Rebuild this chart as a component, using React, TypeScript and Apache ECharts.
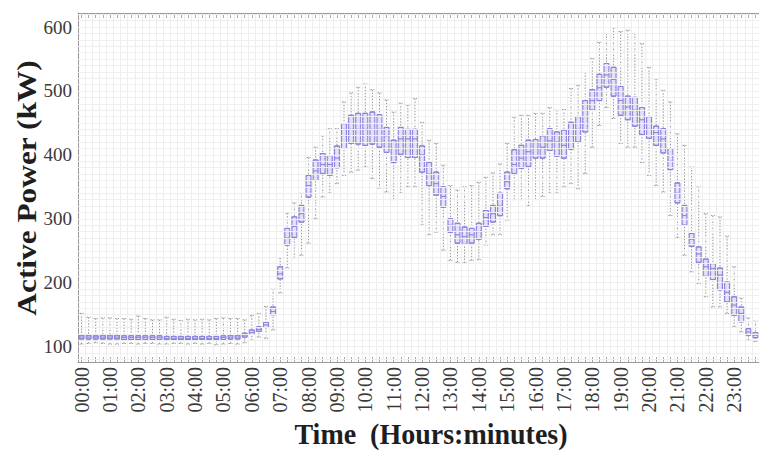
import React, { useEffect, useRef } from "react";
import * as echarts from "echarts";

const times = [
  "00:00", "00:15", "00:30", "00:45", "01:00", "01:15", "01:30", "01:45",
  "02:00", "02:15", "02:30", "02:45", "03:00", "03:15", "03:30", "03:45",
  "04:00", "04:15", "04:30", "04:45", "05:00", "05:15", "05:30", "05:45",
  "06:00", "06:15", "06:30", "06:45", "07:00", "07:15", "07:30", "07:45",
  "08:00", "08:15", "08:30", "08:45", "09:00", "09:15", "09:30", "09:45",
  "10:00", "10:15", "10:30", "10:45", "11:00", "11:15", "11:30", "11:45",
  "12:00", "12:15", "12:30", "12:45", "13:00", "13:15", "13:30", "13:45",
  "14:00", "14:15", "14:30", "14:45", "15:00", "15:15", "15:30", "15:45",
  "16:00", "16:15", "16:30", "16:45", "17:00", "17:15", "17:30", "17:45",
  "18:00", "18:15", "18:30", "18:45", "19:00", "19:15", "19:30", "19:45",
  "20:00", "20:15", "20:30", "20:45", "21:00", "21:15", "21:30", "21:45",
  "22:00", "22:15", "22:30", "22:45", "23:00", "23:15", "23:30", "23:45",
];

const whiskerLow = [
  104, 105, 106, 105, 104, 104, 105, 105, 104, 105, 105, 104, 104, 105, 105, 104,
  105, 104, 105, 103, 104, 105, 104, 106, 110, 115, 113, 126, 184, 223, 239, 243,
  262, 300, 334, 340, 355, 368, 373, 376, 381, 363, 348, 342, 330, 340, 350, 350,
  290, 275, 279, 251, 235, 232, 231, 235, 236, 259, 275, 275, 298, 330, 330, 320,
  330, 335, 340, 340, 350, 355, 347, 371, 412, 446, 474, 457, 418, 412, 412, 388,
  368, 352, 342, 305, 270, 243, 217, 199, 178, 162, 162, 152, 131, 123, 110, 108,
];
const q1 = [
  112, 112, 112, 112, 112, 112, 111, 111, 111, 111, 111, 111, 111, 111, 111, 111,
  111, 111, 111, 111, 111, 112, 112, 115, 119, 124, 130, 150, 206, 259, 271, 295,
  334, 360, 371, 368, 380, 410, 418, 417, 415, 417, 412, 404, 388, 401, 396, 396,
  373, 352, 337, 318, 279, 262, 260, 262, 268, 288, 295, 305, 347, 371, 379, 382,
  395, 395, 407, 398, 395, 409, 420, 436, 470, 485, 506, 492, 462, 455, 445, 432,
  426, 415, 403, 377, 325, 290, 257, 232, 210, 205, 189, 170, 149, 139, 118, 114,
];
const median = [
  115, 115, 115, 115, 115, 115, 114, 114, 114, 114, 114, 114, 113, 113, 113, 113,
  113, 113, 113, 113, 114, 115, 115, 118, 122, 127, 134, 155, 214, 270, 288, 308,
  352, 375, 385, 385, 395, 440, 440, 440, 440, 440, 440, 430, 410, 425, 425, 425,
  400, 370, 355, 335, 290, 275, 272, 275, 280, 302, 308, 320, 358, 385, 395, 405,
  410, 412, 422, 420, 415, 430, 440, 460, 485, 505, 525, 518, 485, 475, 470, 455,
  440, 435, 425, 390, 340, 305, 268, 245, 225, 222, 212, 185, 165, 152, 123, 118,
];
const q3 = [
  118, 118, 117, 118, 118, 118, 117, 117, 117, 117, 117, 117, 116, 116, 116, 116,
  116, 116, 116, 116, 117, 118, 118, 121, 126, 131, 138, 162, 225, 285, 303, 321,
  368, 392, 402, 399, 414, 449, 462, 465, 465, 467, 463, 443, 423, 443, 440, 440,
  414, 388, 373, 350, 300, 293, 287, 285, 293, 313, 321, 340, 373, 408, 415, 423,
  424, 430, 441, 436, 439, 451, 460, 485, 502, 526, 543, 537, 507, 492, 490, 474,
  460, 445, 441, 410, 356, 321, 277, 256, 237, 230, 223, 201, 178, 162, 128, 122,
];
const whiskerHigh = [
  152, 146, 144, 145, 145, 144, 144, 143, 148, 144, 142, 142, 146, 143, 141, 143,
  142, 143, 142, 144, 145, 144, 144, 142, 149, 152, 163, 190, 239, 309, 325, 340,
  396, 412, 430, 441, 441, 483, 497, 506, 511, 502, 497, 486, 467, 481, 478, 488,
  451, 423, 418, 384, 352, 345, 350, 352, 357, 365, 372, 386, 418, 459, 462, 462,
  465, 465, 474, 470, 471, 504, 509, 529, 551, 576, 590, 599, 593, 595, 590, 574,
  537, 519, 501, 483, 433, 415, 381, 350, 308, 305, 303, 273, 225, 176, 145, 140,
];

const yTicks = [100, 200, 300, 400, 500, 600];

export default function App() {
  const ref = useRef<HTMLDivElement>(null);

  useEffect(() => {
    if (!ref.current) return;
    const chart = echarts.init(ref.current, null, { renderer: "svg" });
    const full = times.map((_, i) => [whiskerLow[i], q1[i], median[i], q3[i], whiskerHigh[i]]);
    const boxes = times.map((_, i) => [q1[i], q1[i], median[i], q3[i], q3[i]]);
    const gridLines: any[] = [];
    for (let v = 80; v <= 620; v += 10) gridLines.push({ yAxis: v });

    const serif = "Liberation Serif";
    chart.setOption({
      animation: false,
      backgroundColor: "#ffffff",
      grid: { left: 78, top: 13, width: 691, height: 349, show: false },
      xAxis: [
        {
          type: "category",
          data: times,
          position: "bottom",
          boundaryGap: true,
          axisLine: { show: true, lineStyle: { color: "#999", width: 1 } },
          axisTick: {
            show: true,
            inside: true,
            length: 5,
            interval: 0,
            alignWithLabel: true,
            lineStyle: { color: "#aaa" },
          },
          axisLabel: {
            interval: 3,
            rotate: 90,
            margin: 5,
            fontFamily: serif,
            fontSize: 20,
            color: "#3a3a3a",
          },
          splitLine: { show: true, interval: 0, lineStyle: { color: "#eeeeee", width: 1 } },
        },
        {
          type: "category",
          data: times,
          position: "top",
          boundaryGap: true,
          axisLine: { show: true, lineStyle: { color: "#999", width: 1 } },
          axisTick: {
            show: true,
            inside: true,
            length: 5,
            interval: 0,
            alignWithLabel: true,
            lineStyle: { color: "#aaa" },
          },
          axisLabel: { show: false },
          splitLine: { show: false },
        },
      ],
      yAxis: {
        type: "value",
        min: 76,
        max: 622,
        splitNumber: 5,
        axisLine: { show: true, lineStyle: { color: "#999", width: 1 } },
        axisTick: { show: true, inside: true, length: 4, lineStyle: { color: "#999" } },
        axisLabel: {
          margin: 6,
          fontFamily: serif,
          fontSize: 19,
          color: "#3a3a3a",
          formatter: (v: number) => (yTicks.includes(v) ? String(v) : ""),
        },
        splitLine: { show: false },
      },
      series: [
        {
          type: "line",
          xAxisIndex: 0,
          data: times.map(() => null),
          silent: true,
          z: 0,
          showSymbol: false,
          lineStyle: { opacity: 0 },
          markLine: {
            silent: true,
            symbol: ["none", "none"],
            label: { show: false },
            emphasis: { disabled: true },
            lineStyle: { color: "#eeeeee", type: "solid", width: 1 },
            data: gridLines,
          },
        },
        {
          type: "boxplot",
          name: "whiskers",
          xAxisIndex: 1,
          data: full,
          boxWidth: [4, 4],
          z: 2,
          silent: true,
          itemStyle: {
            color: "rgba(0,0,0,0)",
            borderColor: "#959595",
            borderWidth: 1,
            borderType: [1.5, 1.5],
          },
        },
        {
          type: "boxplot",
          name: "boxes",
          xAxisIndex: 0,
          data: boxes,
          boxWidth: [5, 5],
          z: 3,
          silent: true,
          itemStyle: {
            color: "rgba(205,200,250,0.55)",
            borderColor: "#8a82de",
            borderWidth: 1,
          },
        },
      ],
      graphic: [
        {
          type: "text",
          x: 27,
          y: 188,
          rotation: Math.PI / 2,
          scaleX: 1.12,
          style: {
            text: "Active Power (kW)",
            align: "center",
            verticalAlign: "middle",
            fontFamily: serif,
            fontWeight: "bold",
            fontSize: 28,
            fill: "#1e1e1e",
          },
        },
        {
          type: "text",
          x: 431,
          y: 434,
          scaleY: 1.08,
          style: {
            text: "Time \u00a0(Hours:minutes)",
            align: "center",
            verticalAlign: "middle",
            fontFamily: serif,
            fontWeight: "bold",
            fontSize: 28,
            fill: "#1e1e1e",
          },
        },
      ],
    });
    return () => chart.dispose();
  }, []);

  return (
    <div
      ref={ref}
      style={{ position: "fixed", left: 0, top: 0, width: 759, height: 453, background: "#fff" }}
    />
  );
}
